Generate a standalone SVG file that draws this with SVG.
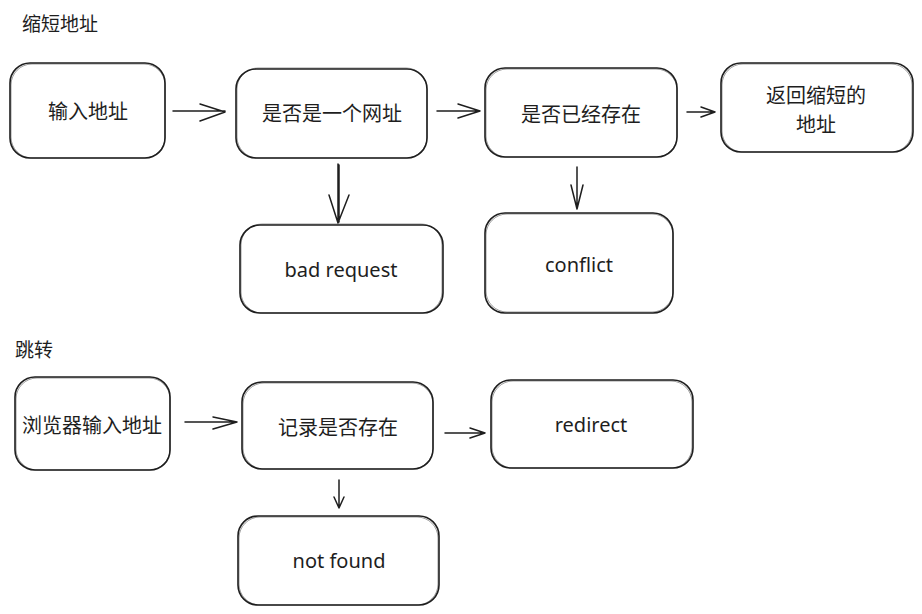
<svg xmlns="http://www.w3.org/2000/svg" width="922" height="614" viewBox="0 0 922 614">
  <style>
    .box { fill: #ffffff; stroke: #1e1e1e; stroke-width: 1.6; }
    .box2 { fill: none; stroke: #1e1e1e; stroke-width: 0.8; opacity: 0.55; }
    .cjk { font-family: "Noto Sans CJK SC", "Noto Sans", sans-serif; font-size: 20px; fill: #1e1e1e; text-anchor: middle; dominant-baseline: central; }
    .title { font-family: "Noto Sans CJK SC", "Noto Sans", sans-serif; font-size: 19px; fill: #1e1e1e; dominant-baseline: central; }
    .en { font-family: "Noto Sans", "DejaVu Sans", sans-serif; font-size: 20px; fill: #1e1e1e; text-anchor: middle; dominant-baseline: central; }
    .line { fill: none; stroke: #1e1e1e; stroke-width: 1.5; stroke-linecap: round; stroke-linejoin: round; }
  </style>
  <rect width="922" height="614" fill="#ffffff"/>

  <!-- section titles -->
  <text class="title" x="22" y="22">缩短地址</text>
  <text class="title" x="15" y="348">跳转</text>

  <!-- shorten flow -->
  <g id="input-url">
    <rect class="box" x="10" y="63" width="155" height="95" rx="20"/>
    <rect class="box2" x="11" y="64" width="154" height="94" rx="21"/>
    <text class="cjk" x="88" y="110">输入地址</text>
  </g>
  <g id="is-url">
    <rect class="box" x="236" y="69" width="191" height="89" rx="20"/>
    <rect class="box2" x="237" y="68" width="190" height="90" rx="21"/>
    <text class="cjk" x="332" y="112">是否是一个网址</text>
  </g>
  <g id="exists">
    <rect class="box" x="485" y="68" width="192" height="89" rx="20"/>
    <rect class="box2" x="486" y="69" width="191" height="88" rx="21"/>
    <text class="cjk" x="581" y="113">是否已经存在</text>
  </g>
  <g id="return-short">
    <rect class="box" x="721" y="63" width="192" height="89" rx="20"/>
    <rect class="box2" x="722" y="64" width="190" height="88" rx="21"/>
    <text class="cjk" y="94"><tspan x="816">返回缩短的</tspan><tspan x="816" dy="29">地址</tspan></text>
  </g>
  <g id="bad-request">
    <rect class="box" x="240" y="225" width="203" height="88" rx="20"/>
    <rect class="box2" x="241" y="224" width="201" height="89" rx="21"/>
    <text class="en" x="341" y="269">bad request</text>
  </g>
  <g id="conflict">
    <rect class="box" x="485" y="213" width="188" height="100" rx="20"/>
    <rect class="box2" x="486" y="214" width="187" height="98" rx="21"/>
    <text class="en" x="579" y="264">conflict</text>
  </g>

  <!-- redirect flow -->
  <g id="browser-input">
    <rect class="box" x="15" y="377" width="155" height="93" rx="20"/>
    <rect class="box2" x="16" y="378" width="154" height="92" rx="21"/>
    <text class="cjk" x="92" y="424">浏览器输入地址</text>
  </g>
  <g id="record-exists">
    <rect class="box" x="242" y="382" width="191" height="87" rx="20"/>
    <rect class="box2" x="243" y="383" width="190" height="86" rx="21"/>
    <text class="cjk" x="338" y="426">记录是否存在</text>
  </g>
  <g id="redirect">
    <rect class="box" x="491" y="380" width="202" height="88" rx="20"/>
    <rect class="box2" x="492" y="381" width="200" height="87" rx="21"/>
    <text class="en" x="591" y="424">redirect</text>
  </g>
  <g id="not-found">
    <rect class="box" x="238" y="516" width="201" height="89" rx="20"/>
    <rect class="box2" x="239" y="517" width="199" height="88" rx="21"/>
    <text class="en" x="339" y="560">not found</text>
  </g>

  <!-- connectors: shaft plus open arrowhead -->
  <g id="connectors">
    <path class="line" d="M173 111 L225 111 M200 104 L225 112 L200 121"/>
    <path class="line" d="M437 111 L480 111 M458 104 L480 111 L458 118"/>
    <path class="line" d="M687 112 L715 112 M701 107 L715 112 L701 117"/>
    <path class="line" d="M338 164 L338 223 M339 165 L339 222 M329 195 L338 223 L349 195"/>
    <path class="line" d="M577 167 L577 209 M571 185 L577 209 L583 185"/>
    <path class="line" d="M185 422 L237 422 M213 417 L237 422 L213 429"/>
    <path class="line" d="M445 433 L485 433 M470 428 L485 433 L470 438"/>
    <path class="line" d="M339 480 L339 508 M334 497 L339 508 L344 497"/>
  </g>
</svg>
